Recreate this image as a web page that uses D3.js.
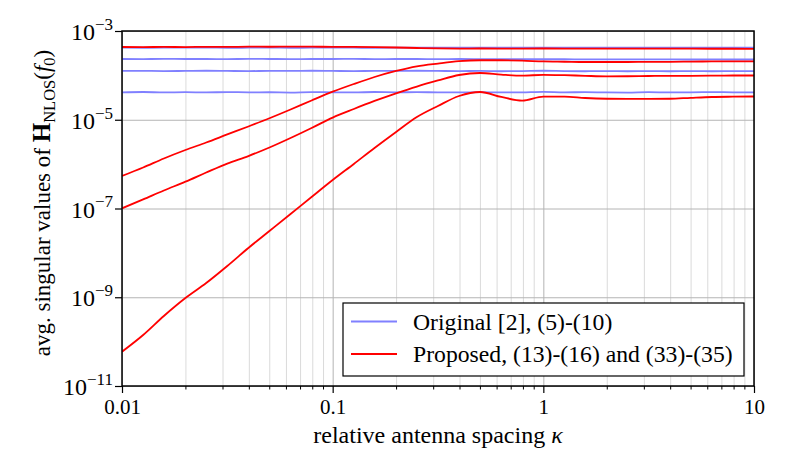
<!DOCTYPE html>
<html><head><meta charset="utf-8">
<script src="https://cdn.jsdelivr.net/npm/d3@7"></script>
<style>
body{margin:0;background:#fff}
svg{display:block}
text{font-family:"Liberation Serif","DejaVu Serif",serif;fill:#000}
</style>
</head><body><svg id="c" width="789" height="473"></svg>
<script>
// ---- data ----
const kappa = [0.01,0.0126,0.0158,0.02,0.0251,0.0316,0.0398,0.0501,0.0631,0.0794,
  0.1,0.126,0.158,0.2,0.251,0.316,0.398,0.501,0.631,0.794,
  1,1.26,1.58,2,2.51,3.16,3.98,5.01,6.31,7.94,10];

const xTickValues = [0.01,0.1,1,10];
const xTickLabels = ["0.01","0.1","1","10"];
const yTickValues = [1e-3,1e-5,1e-7,1e-9,1e-11];
const yTickExponents = ["−3","−5","−7","−9","−11"];

// Original [2], (5)-(10)  (blue)
const orig1 = [4.20e-4,4.19e-4,4.21e-4,4.20e-4,4.22e-4,4.19e-4,4.20e-4,4.21e-4,4.19e-4,4.20e-4,
  4.21e-4,4.20e-4,4.19e-4,4.20e-4,4.21e-4,4.20e-4,4.19e-4,4.20e-4,4.21e-4,4.20e-4,
  4.19e-4,4.20e-4,4.21e-4,4.19e-4,4.20e-4,4.20e-4,4.21e-4,4.19e-4,4.20e-4,4.20e-4,4.19e-4];
const orig2 = [2.34e-4,2.33e-4,2.35e-4,2.34e-4,2.34e-4,2.33e-4,2.35e-4,2.34e-4,2.33e-4,2.34e-4,
  2.34e-4,2.35e-4,2.33e-4,2.34e-4,2.34e-4,2.33e-4,2.34e-4,2.33e-4,2.32e-4,2.32e-4,
  2.31e-4,2.31e-4,2.30e-4,2.30e-4,2.29e-4,2.30e-4,2.29e-4,2.28e-4,2.29e-4,2.28e-4,2.28e-4];
const orig3 = [1.26e-4,1.26e-4,1.25e-4,1.26e-4,1.27e-4,1.26e-4,1.25e-4,1.26e-4,1.26e-4,1.27e-4,
  1.26e-4,1.25e-4,1.26e-4,1.26e-4,1.27e-4,1.26e-4,1.25e-4,1.26e-4,1.24e-4,1.25e-4,
  1.27e-4,1.25e-4,1.24e-4,1.25e-4,1.24e-4,1.25e-4,1.24e-4,1.25e-4,1.24e-4,1.25e-4,1.24e-4];
const orig4 = [4.16e-5,4.22e-5,4.12e-5,4.18e-5,4.14e-5,4.20e-5,4.15e-5,4.17e-5,4.10e-5,4.21e-5,
  4.16e-5,4.12e-5,4.22e-5,4.15e-5,4.19e-5,4.14e-5,4.13e-5,4.18e-5,4.12e-5,4.16e-5,
  4.26e-5,4.14e-5,4.20e-5,4.12e-5,4.10e-5,4.18e-5,4.14e-5,4.16e-5,4.20e-5,4.15e-5,4.14e-5];

// Proposed, (13)-(16) and (33)-(35)  (red)
const prop1 = [4.36e-4,4.33e-4,4.38e-4,4.35e-4,4.40e-4,4.37e-4,4.45e-4,4.42e-4,4.46e-4,4.44e-4,
  4.40e-4,4.38e-4,4.33e-4,4.25e-4,4.14e-4,4.05e-4,4.02e-4,4.03e-4,4.02e-4,4.02e-4,
  4.03e-4,4.02e-4,4.01e-4,4.01e-4,4.00e-4,4.00e-4,3.99e-4,3.99e-4,3.98e-4,3.98e-4,3.97e-4];
const prop2 = [5.40e-7,8.39e-7,1.34e-6,2.08e-6,3.07e-6,4.66e-6,7.05e-6,1.08e-5,1.70e-5,2.72e-5,
  4.29e-5,6.39e-5,9.19e-5,1.26e-4,1.60e-4,1.85e-4,2.09e-4,2.19e-4,2.19e-4,2.15e-4,
  2.06e-4,2.03e-4,2.00e-4,2.00e-4,2.00e-4,2.02e-4,2.02e-4,2.04e-4,2.06e-4,2.06e-4,2.06e-4];
const prop3 = [1.01e-7,1.60e-7,2.55e-7,4.02e-7,6.47e-7,1.03e-6,1.52e-6,2.37e-6,3.88e-6,6.52e-6,
  1.12e-5,1.75e-5,2.65e-5,3.94e-5,5.61e-5,7.67e-5,1.02e-4,1.13e-4,1.04e-4,9.84e-5,
  1.03e-4,1.01e-4,9.78e-5,9.53e-5,9.56e-5,9.68e-5,9.78e-5,9.78e-5,9.84e-5,9.93e-5,9.93e-5];
const prop4 = [5.93e-11,1.41e-10,3.78e-10,9.60e-10,2.09e-9,5.06e-9,1.29e-8,3.11e-8,7.52e-8,1.82e-7,
  4.39e-7,1.01e-6,2.31e-6,5.30e-6,1.15e-5,2.04e-5,3.43e-5,4.22e-5,3.26e-5,2.69e-5,
  3.31e-5,3.31e-5,3.09e-5,2.97e-5,2.94e-5,2.94e-5,2.97e-5,3.12e-5,3.26e-5,3.31e-5,3.34e-5];

const originalSeries = [orig1, orig2, orig3, orig4];
const proposedSeries = [prop1, prop2, prop3, prop4];
const legendLabels = ["Original [2], (5)-(10)", "Proposed, (13)-(16) and (33)-(35)"];

// ---- layout ----
const W = 789, H = 473;
const m = {left:122, top:31, right:35, bottom:87};
const iw = W - m.left - m.right, ih = H - m.top - m.bottom;

const svg = d3.select("#c");
const g = svg.append("g").attr("transform", `translate(${m.left},${m.top})`);

const x = d3.scaleLog().domain([0.01, 10]).range([0, iw]);
const y = d3.scaleLog().domain([1e-11, 1e-3]).range([ih, 0]);

const minorX = x.ticks().filter(v => !xTickValues.some(t => Math.abs(t - v) / t < 1e-6));

// grid
g.append("g").attr("transform", `translate(0,${ih})`)
  .call(d3.axisBottom(x).tickValues(minorX).tickSize(-ih).tickFormat(""))
  .call(s => { s.select(".domain").remove(); s.selectAll("line").attr("stroke", "#d6d6d6").attr("stroke-width", 0.9); });
g.append("g").attr("transform", `translate(0,${ih})`)
  .call(d3.axisBottom(x).tickValues(xTickValues).tickSize(-ih).tickFormat(""))
  .call(s => { s.select(".domain").remove(); s.selectAll("line").attr("stroke", "#b4b4b4").attr("stroke-width", 1); });
g.append("g")
  .call(d3.axisLeft(y).tickValues(yTickValues).tickSize(-iw).tickFormat(""))
  .call(s => { s.select(".domain").remove(); s.selectAll("line").attr("stroke", "#b4b4b4").attr("stroke-width", 1); });

// lines
svg.append("defs").append("clipPath").attr("id", "pc")
  .append("rect").attr("width", iw).attr("height", ih);
const line = d3.line().x((d, i) => x(kappa[i])).y(d => y(d)).curve(d3.curveMonotoneX);
const lg = g.append("g").attr("clip-path", "url(#pc)");
originalSeries.forEach(s => lg.append("path").datum(s).attr("d", line)
  .attr("fill", "none").attr("stroke", "#8080ff").attr("stroke-width", 1.8));
proposedSeries.forEach(s => lg.append("path").datum(s).attr("d", line)
  .attr("fill", "none").attr("stroke", "#ff0000").attr("stroke-width", 1.8));

// axes
const xa = g.append("g").attr("transform", `translate(0,${ih})`)
  .call(d3.axisBottom(x).tickValues(xTickValues).tickSize(7).tickPadding(6)
    .tickFormat((d, i) => xTickLabels[i]));
xa.select(".domain").remove();
xa.selectAll("line").attr("stroke", "#000").attr("stroke-width", 1.2);
xa.selectAll("text").attr("font-size", 21).attr("font-family", null);
const xm = g.append("g").attr("transform", `translate(0,${ih})`)
  .call(d3.axisBottom(x).tickValues(minorX).tickSize(3.5).tickFormat(""));
xm.select(".domain").remove();
xm.selectAll("line").attr("stroke", "#000").attr("stroke-width", 1);

const ya = g.append("g")
  .call(d3.axisLeft(y).tickValues(yTickValues).tickSize(7).tickFormat(""));
ya.select(".domain").remove();
ya.selectAll("line").attr("stroke", "#000").attr("stroke-width", 1.2);
ya.selectAll(".tick").each(function(d, i) {
  const t = d3.select(this).append("text").attr("x", -9).attr("dy", "0.36em")
    .attr("text-anchor", "end").attr("font-size", 24);
  t.append("tspan").text("10");
  t.append("tspan").attr("font-size", 17).attr("dy", "-0.6em").text(yTickExponents[i]);
});

// frame
g.append("rect").attr("width", iw).attr("height", ih).attr("fill", "none")
  .attr("stroke", "#000").attr("stroke-width", 1.5);

// axis labels
svg.append("text").attr("x", m.left + iw / 2).attr("y", 443).attr("text-anchor", "middle")
  .attr("font-size", 24)
  .call(t => { t.append("tspan").text("relative antenna spacing "); t.append("tspan").attr("font-style", "italic").text("κ"); });

const yl = svg.append("text").attr("transform", `translate(49.5,203) rotate(-90)`)
  .attr("text-anchor", "middle").attr("font-size", 23);
yl.append("tspan").text("avg. singular values of ");
yl.append("tspan").attr("font-weight", "bold").attr("font-size", 25).text("H");
yl.append("tspan").attr("font-size", 16.5).attr("dy", 5).text("NLOS");
yl.append("tspan").attr("dy", -5).text("(");
yl.append("tspan").attr("font-style", "italic").text("f");
yl.append("tspan").attr("font-size", 16.5).attr("dy", 5).text("0");
yl.append("tspan").attr("dy", -5).text(")");

// legend
const lgX = 343, lgY = 303, lgW = 401, lgH = 73;
const leg = svg.append("g");
leg.append("rect").attr("x", lgX).attr("y", lgY).attr("width", lgW).attr("height", lgH)
  .attr("fill", "#fff").attr("stroke", "#000").attr("stroke-width", 1.2);
const legColors = ["#8080ff", "#ff0000"];
legendLabels.forEach((lab, i) => {
  const yy = lgY + 18.5 + i * 32.5;
  leg.append("line").attr("x1", lgX + 8).attr("x2", lgX + 54).attr("y1", yy).attr("y2", yy)
    .attr("stroke", legColors[i]).attr("stroke-width", 1.8);
  leg.append("text").attr("x", lgX + 70).attr("y", yy).attr("dy", "0.35em")
    .attr("font-size", 23.7).text(lab);
});
</script>
</body></html>
